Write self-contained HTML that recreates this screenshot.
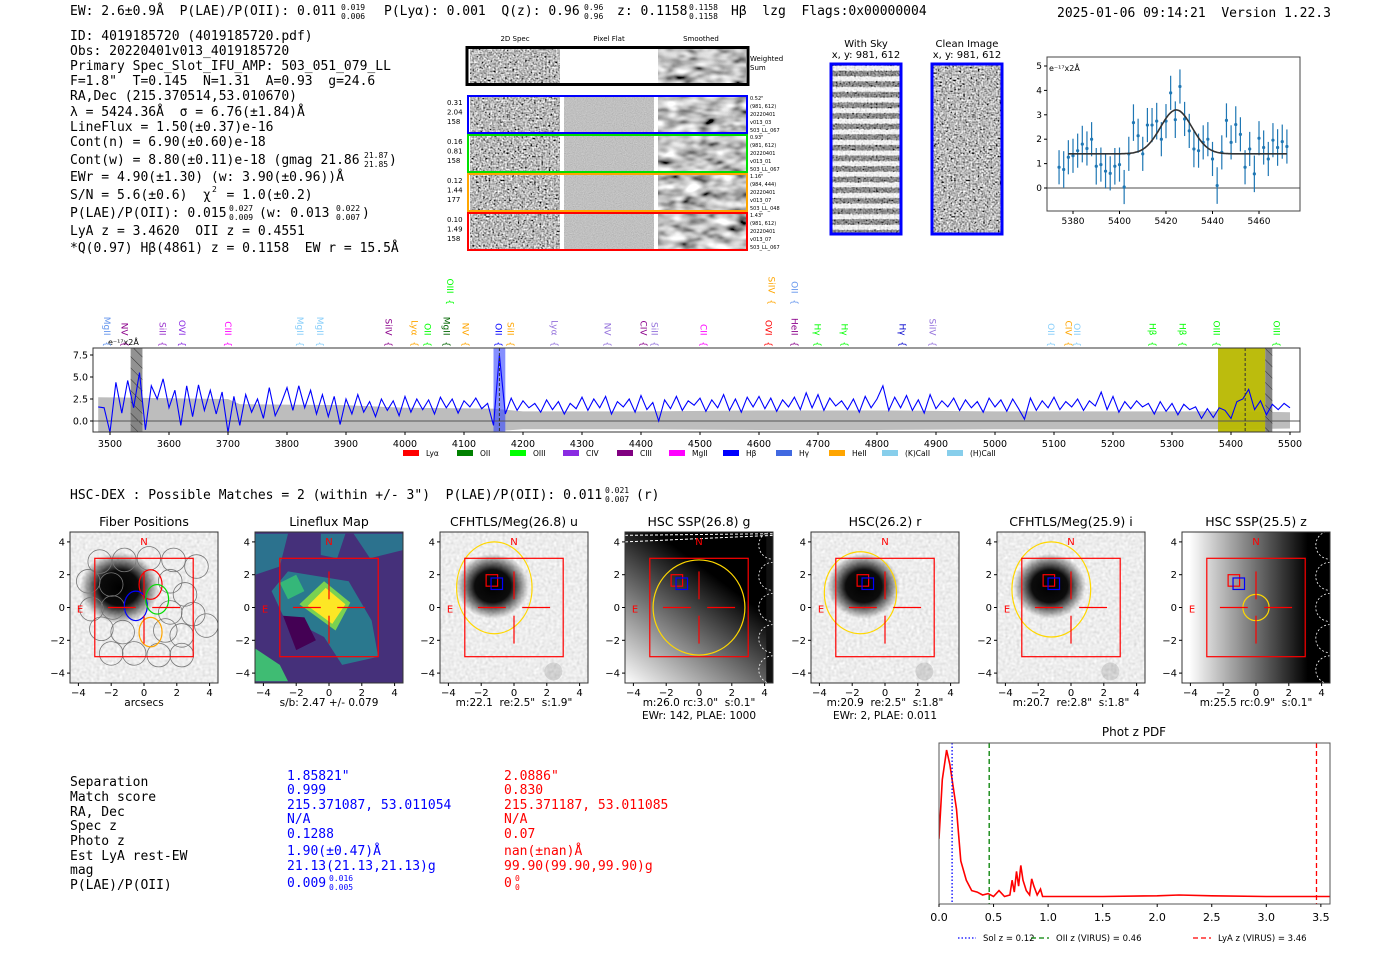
<!DOCTYPE html>
<html><head><meta charset="utf-8">
<style>
html,body{margin:0;padding:0;background:#fff;}
svg{display:block;}
text{white-space:pre;}
.m{font-family:"DejaVu Sans Mono","Liberation Mono",monospace;font-size:13px;fill:#000;}
.s{font-family:"DejaVu Sans","Liberation Sans",sans-serif;}
</style></head>
<body>
<svg id="root" width="1400" height="953" viewBox="0 0 1400 953" xmlns="http://www.w3.org/2000/svg" xml:space="preserve">
<defs>
<filter id="nFine" x="0" y="0" width="1" height="1" filterUnits="objectBoundingBox">
 <feTurbulence type="fractalNoise" baseFrequency="0.55" numOctaves="1" seed="3"/>
 <feColorMatrix type="matrix" values="0.33 0.33 0.33 0 0 0.33 0.33 0.33 0 0 0.33 0.33 0.33 0 0 0 0 0 0 1"/>
 <feComponentTransfer><feFuncR type="linear" slope="3.2" intercept="-1.1"/><feFuncG type="linear" slope="3.2" intercept="-1.1"/><feFuncB type="linear" slope="3.2" intercept="-1.1"/></feComponentTransfer>
</filter>
<filter id="nSmooth" x="0" y="0" width="1" height="1" filterUnits="objectBoundingBox">
 <feTurbulence type="fractalNoise" baseFrequency="0.06 0.12" numOctaves="2" seed="7"/>
 <feColorMatrix type="matrix" values="0.33 0.33 0.33 0 0 0.33 0.33 0.33 0 0 0.33 0.33 0.33 0 0 0 0 0 0 1"/>
 <feComponentTransfer><feFuncR type="linear" slope="3" intercept="-0.95"/><feFuncG type="linear" slope="3" intercept="-0.95"/><feFuncB type="linear" slope="3" intercept="-0.95"/></feComponentTransfer>
</filter>
<filter id="nFlat" x="0" y="0" width="1" height="1" filterUnits="objectBoundingBox">
 <feTurbulence type="fractalNoise" baseFrequency="0.9" numOctaves="1" seed="2"/>
 <feColorMatrix type="matrix" values="0.33 0.33 0.33 0 0 0.33 0.33 0.33 0 0 0.33 0.33 0.33 0 0 0 0 0 0 1"/>
 <feComponentTransfer><feFuncR type="linear" slope="0.5" intercept="0.28"/><feFuncG type="linear" slope="0.5" intercept="0.28"/><feFuncB type="linear" slope="0.5" intercept="0.28"/></feComponentTransfer>
</filter>
<filter id="nLight" x="0" y="0" width="1" height="1" filterUnits="objectBoundingBox">
 <feTurbulence type="fractalNoise" baseFrequency="0.35" numOctaves="1" seed="5"/>
 <feColorMatrix type="matrix" values="0.33 0.33 0.33 0 0 0.33 0.33 0.33 0 0 0.33 0.33 0.33 0 0 0 0 0 0 1"/>
 <feComponentTransfer><feFuncR type="linear" slope="0.7" intercept="0.5"/><feFuncG type="linear" slope="0.7" intercept="0.5"/><feFuncB type="linear" slope="0.7" intercept="0.5"/></feComponentTransfer>
</filter>
<radialGradient id="blob"><stop offset="0" stop-color="#000" stop-opacity="1"/><stop offset="0.5" stop-color="#000" stop-opacity="0.95"/><stop offset="1" stop-color="#000" stop-opacity="0"/></radialGradient>
<linearGradient id="gG" x1="0" y1="1" x2="0.55" y2="0.25"><stop offset="0" stop-color="#fff"/><stop offset="1" stop-color="#000"/></linearGradient>
<linearGradient id="gZ" x1="0" y1="0" x2="1" y2="0"><stop offset="0.05" stop-color="#fff"/><stop offset="0.85" stop-color="#000"/></linearGradient>
<pattern id="hatch" width="8" height="8" patternUnits="userSpaceOnUse" patternTransform="rotate(-45)"><line x1="0" y1="0" x2="0" y2="8" stroke="#333" stroke-width="1"/></pattern>
<clipPath id="specClip"><rect x="93" y="348" width="1207" height="84"/></clipPath>
<clipPath id="pzClip"><rect x="939" y="743" width="391" height="161"/></clipPath>
</defs>

<text class="m" x="70" y="15">EW: 2.6±0.9Å  P(LAE)/P(OII): 0.011</text>
<text class="m" x="341" y="10" style="font-size:8px">0.019</text>
<text class="m" x="341" y="19" style="font-size:8px">0.006</text>
<text class="m" x="384" y="15">P(Lyα): 0.001  Q(z): 0.96</text>
<text class="m" x="584" y="10" style="font-size:8px">0.96</text>
<text class="m" x="584" y="19" style="font-size:8px">0.96</text>
<text class="m" x="617" y="15">z: 0.1158</text>
<text class="m" x="689" y="10" style="font-size:8px">0.1158</text>
<text class="m" x="689" y="19" style="font-size:8px">0.1158</text>
<text class="m" x="731" y="15">Hβ  lzg  Flags:0x00000004</text>
<text class="m" x="1057" y="17">2025-01-06 09:14:21  Version 1.22.3</text>

<g>
<text class="m" x="70" y="40">ID: 4019185720 (4019185720.pdf)</text>
<text class="m" x="70" y="55">Obs: 20220401v013_4019185720</text>
<text class="m" x="70" y="70">Primary Spec_Slot_IFU_AMP: 503_051_079_LL</text>
<text class="m" x="70" y="85">F=1.8"  T=0.145  N=1.31  A=0.93  g=24.6</text>
<text class="m" x="70" y="100">RA,Dec (215.370514,53.010670)</text>
<text class="m" x="70" y="116">λ = 5424.36Å  σ = 6.76(±1.84)Å</text>
<text class="m" x="70" y="131">LineFlux = 1.50(±0.37)e-16</text>
<text class="m" x="70" y="146">Cont(n) = 6.90(±0.60)e-18</text>
<text class="m" x="70" y="164">Cont(w) = 8.80(±0.11)e-18 (gmag 21.86</text>
<text class="m" x="364" y="158" style="font-size:8px">21.87</text>
<text class="m" x="364" y="167" style="font-size:8px">21.85</text>
<text class="m" x="389" y="164">)</text>
<text class="m" x="70" y="181">EWr = 4.90(±1.30) (w: 3.90(±0.96))Å</text>
<text class="m" x="70" y="199">S/N = 5.6(±0.6)  χ  = 1.0(±0.2)</text>
<text class="m" x="212" y="192" style="font-size:8px">2</text>
<text class="m" x="70" y="217">P(LAE)/P(OII): 0.015</text>
<text class="m" x="229" y="211" style="font-size:8px">0.027</text>
<text class="m" x="229" y="220" style="font-size:8px">0.009</text>
<text class="m" x="259" y="217">(w: 0.013</text>
<text class="m" x="336" y="211" style="font-size:8px">0.022</text>
<text class="m" x="336" y="220" style="font-size:8px">0.007</text>
<text class="m" x="362" y="217">)</text>
<text class="m" x="70" y="235">LyA z = 3.4620  OII z = 0.4551</text>
<text class="m" x="70" y="252">*Q(0.97) Hβ(4861) z = 0.1158  EW r = 15.5Å</text>
</g>

<g id="g2d"></g>
<g id="gsky"></g>
<g id="gfit"></g>
<g id="gspec"></g>

<text class="m" x="70" y="499">HSC-DEX : Possible Matches = 2 (within +/- 3")  P(LAE)/P(OII): 0.011</text>
<text class="m" x="605" y="493" style="font-size:8px">0.021</text>
<text class="m" x="605" y="502" style="font-size:8px">0.007</text>
<text class="m" x="636" y="499">(r)</text>

<g id="gcut"></g>

<g>
<text class="m" x="70" y="786">Separation</text>
<text class="m" x="70" y="801">Match score</text>
<text class="m" x="70" y="816">RA, Dec</text>
<text class="m" x="70" y="830">Spec z</text>
<text class="m" x="70" y="845">Photo z</text>
<text class="m" x="70" y="860">Est LyA rest-EW</text>
<text class="m" x="70" y="874">mag</text>
<text class="m" x="70" y="889">P(LAE)/P(OII)</text>
<text class="m" style="fill:#0000ff" x="287" y="780">1.85821"</text>
<text class="m" style="fill:#0000ff" x="287" y="794">0.999</text>
<text class="m" style="fill:#0000ff" x="287" y="809">215.371087, 53.011054</text>
<text class="m" style="fill:#0000ff" x="287" y="823">N/A</text>
<text class="m" style="fill:#0000ff" x="287" y="838">0.1288</text>
<text class="m" style="fill:#0000ff" x="287" y="855">1.90(±0.47)Å</text>
<text class="m" style="fill:#0000ff" x="287" y="870">21.13(21.13,21.13)g</text>
<text class="m" style="fill:#0000ff" x="287" y="887">0.009</text>
<text class="m" style="fill:#0000ff;font-size:8px" x="329" y="881">0.016</text>
<text class="m" style="fill:#0000ff;font-size:8px" x="329" y="890">0.005</text>
<text class="m" style="fill:#ff0000" x="504" y="780">2.0886"</text>
<text class="m" style="fill:#ff0000" x="504" y="794">0.830</text>
<text class="m" style="fill:#ff0000" x="504" y="809">215.371187, 53.011085</text>
<text class="m" style="fill:#ff0000" x="504" y="823">N/A</text>
<text class="m" style="fill:#ff0000" x="504" y="838">0.07</text>
<text class="m" style="fill:#ff0000" x="504" y="855">nan(±nan)Å</text>
<text class="m" style="fill:#ff0000" x="504" y="870">99.90(99.90,99.90)g</text>
<text class="m" style="fill:#ff0000" x="504" y="887">0</text>
<text class="m" style="fill:#ff0000;font-size:8px" x="515" y="881">0</text>
<text class="m" style="fill:#ff0000;font-size:8px" x="515" y="890">0</text>
</g>

<g id="gpz"></g>
</svg>

<script>
const specWave0 = 3480, specStep = 10;
const specFlux = [1.6,1.5,-1.3,4.4,0.9,4.6,1.5,5.5,-1.0,4.0,2.5,4.8,1.5,3.5,-0.5,4.0,0.5,4.1,1.2,3.5,0.8,3.3,-1.3,2.8,-0.5,3.0,1.0,2.5,0.3,3.8,0.6,2.0,3.8,1.2,4.0,1.5,3.5,0.8,3.0,0.5,2.8,-0.4,2.5,0.8,3.0,1.0,2.2,0.5,2.5,1.2,2.3,0.6,2.8,1.0,2.5,1.3,2.4,0.8,2.7,1.5,2.5,0.9,2.3,1.6,2.6,1.4,2.0,-0.5,7.5,0.8,2.6,1.2,2.3,1.5,2.0,1.0,2.4,1.3,2.2,0.8,2.0,1.4,2.7,1.2,2.5,1.5,2.8,0.8,2.2,1.6,2.5,1.0,2.9,1.3,2.1,0.0,2.4,1.4,2.8,1.2,2.3,1.8,2.6,1.1,2.4,1.5,3.0,1.2,2.5,1.0,2.7,1.6,2.8,1.4,2.6,1.1,2.4,1.6,2.7,1.3,3.2,1.5,3.0,1.2,2.6,1.7,2.3,1.3,2.5,1.0,2.8,1.5,2.5,4.0,1.2,2.7,1.5,2.9,1.2,2.4,0.9,3.0,1.4,2.3,1.6,2.6,1.2,2.4,1.5,2.2,1.0,2.6,1.6,2.4,1.1,2.5,1.4,0.2,2.6,1.2,2.3,1.5,2.7,1.3,2.2,1.6,2.5,1.2,2.3,1.7,3.3,1.3,2.8,1.0,2.2,1.4,2.3,1.6,2.0,0.8,2.2,1.1,2.0,0.7,1.9,1.3,1.6,0.3,1.4,0.4,1.5,1.2,0.3,2.2,2.5,3.6,1.3,2.3,0.7,1.9,1.3,2.0,1.5];
const errWave = [3480,3700,3720,3900,4000,4150,4200,4400,4600,4800,5000,5200,5400,5500];
const errVal  = [2.7,2.5,1.9,1.8,1.5,1.4,1.1,1.1,1.2,1.2,1.1,1.1,1.1,1.0];
const specTicks = [3500,3600,3700,3800,3900,4000,4100,4200,4300,4400,4500,4600,4700,4800,4900,5000,5100,5200,5300,5400,5500];
const specYTicks = [0.0,2.5,5.0,7.5];
const lineNames = ["MgII","NV","SiII","OVI","CIII","MgII","MgII","SiIV","Lyα","OII","MgII","NV","OII","SiII","Lyα","NV","CIV","SiII","CII","OVI","HeII","Hγ","Hγ","Hγ","SiIV","OII","CIV","OII","Hβ","Hβ","OIII","OIII"];
const lineWaves = [3496,3525,3590,3623,3701,3823,3857,3973,4017,4039,4071,4103,4159,4180,4254,4344,4405,4424,4507,4617,4661,4700,4746,4844,4895,5096,5125,5140,5268,5319,5376,5478];
const lineColors = ["#6495ed","#8b008b","#9932cc","#8a2be2","#ff00ff","#87cefa","#87cefa","#8b008b","#ffa500","#00ff00","#006400","#ffa500","#0000ff","#ffa500","#9370db","#9370db","#8b008b","#9370db","#ff00ff","#ff0000","#8b008b","#00ff00","#00ff00","#0000cd","#9370db","#87cefa","#ffa500","#87cefa","#00ff00","#00ff00","#00ff00","#00ff00"];
const upNames = ["OIII","SiIV","OII"];
const upWaves = [4077,4622,4661];
const upColors = ["#00ff00","#ffa500","#6495ed"];
const legNames = ["Lyα","OII","OIII","CIV","CIII","MgII","Hβ","Hγ","HeII","(K)CaII","(H)CaII"];
const legColors = ["#ff0000","#008000","#00ff00","#8a2be2","#800080","#ff00ff","#0000ff","#4169e1","#ffa500","#87ceeb","#87ceeb"];

const fitWave = [5374,5376,5378,5380,5382,5384,5386,5388,5390,5392,5394,5396,5398,5400,5402,5404,5406,5408,5410,5412,5414,5416,5418,5420,5422,5424,5426,5428,5430,5432,5434,5436,5438,5440,5442,5444,5446,5448,5450,5452,5454,5456,5458,5460,5462,5464,5466,5468,5470,5472];
const fitFlux = [0.85,0.76,1.26,1.32,1.53,1.8,1.62,2.0,0.89,0.96,0.69,0.6,0.89,0.96,0.04,1.4,2.68,2.14,1.4,2.58,2.58,2.74,2.0,2.74,3.9,2.8,4.16,2.83,2.34,1.6,1.53,1.87,2.0,1.19,0.1,1.46,2.77,1.87,2.6,2.2,0.85,1.6,0.58,2.04,1.66,1.19,1.96,1.66,1.9,1.7];
const fitErr = [0.7,0.75,0.7,0.7,0.7,0.75,0.7,0.7,0.75,0.7,0.7,0.7,0.75,0.7,0.7,0.7,0.75,0.7,0.7,0.7,0.7,0.75,0.7,0.7,0.7,0.75,0.7,0.7,0.7,0.75,0.7,0.7,0.7,0.7,0.75,0.7,0.7,0.7,0.75,0.7,0.7,0.7,0.75,0.7,0.7,0.7,0.7,0.75,0.7,0.7];
const fitCont = 1.4, fitAmp = 1.8, fitMu = 5424.4, fitSig = 6.76;
const fitXTicks = [5380,5400,5420,5440,5460];
const fitYTicks = [0,1,2,3,4,5];

const pzZ = [0,0.03,0.07,0.1,0.13,0.16,0.2,0.25,0.3,0.35,0.4,0.45,0.5,0.55,0.6,0.65,0.67,0.69,0.71,0.73,0.75,0.77,0.8,0.83,0.85,0.87,0.9,0.93,0.95,1.0,1.5,2.0,2.2,2.5,3.0,3.6];
const pzP = [0.4,0.8,1.0,0.9,0.75,0.6,0.25,0.12,0.05,0.04,0.02,0.03,0.01,0.05,0.01,0.02,0.12,0.04,0.18,0.08,0.22,0.12,0.05,0.02,0.13,0.08,0.02,0.06,0.01,0.01,0.01,0.015,0.02,0.015,0.01,0.01];
const pzLinesZ = [0.12,0.46,3.46];
const pzTicks = [0.0,0.5,1.0,1.5,2.0,2.5,3.0,3.5];

const cutTitles = ["Fiber Positions","Lineflux Map","CFHTLS/Meg(26.8) u","HSC SSP(26.8) g","HSC(26.2) r","CFHTLS/Meg(25.9) i","HSC SSP(25.5) z"];
const cutLabel1 = ["arcsecs","s/b: 2.47 +/- 0.079","m:22.1  re:2.5\"  s:1.9\"","m:26.0 rc:3.0\"  s:0.1\"","m:20.9  re:2.5\"  s:1.8\"","m:20.7  re:2.8\"  s:1.8\"","m:25.5 rc:0.9\"  s:0.1\""];
const cutLabel2 = ["","","","EWr: 142, PLAE: 1000","EWr: 2, PLAE: 0.011","",""];
const cutTicks = [-4,-2,0,2,4];

const NS = "http://www.w3.org/2000/svg";
function mk(parent, tag, attrs, txt){
  const el = document.createElementNS(NS, tag);
  for (const k in attrs) el.setAttribute(k, attrs[k]);
  if (txt !== undefined) el.textContent = txt;
  parent.appendChild(el);
  return el;
}
const SANS = '"DejaVu Sans","Liberation Sans",sans-serif';
let e;

// 2D spectra
const g2 = document.getElementById('g2d');
["2D Spec","Pixel Flat","Smoothed"].forEach((t,i)=>{
  e = mk(g2,'text',{x:[515,609,701][i],y:41,'font-family':SANS,'font-size':7,'text-anchor':'middle'},t);
  
  
});
e = mk(g2,'rect',{x:470,y:49,width:90,height:34,fill:'#888',filter:'url(#nFine)'});


e = mk(g2,'rect',{x:658,y:49,width:88,height:34,fill:'#888',filter:'url(#nSmooth)'});


e = mk(g2,'rect',{x:467,y:47.5,width:281,height:37,fill:'none',stroke:'#000','stroke-width':3});


e = mk(g2,'text',{x:750,y:61,'font-family':SANS,'font-size':7},'Weighted');


e = mk(g2,'text',{x:750,y:70,'font-family':SANS,'font-size':7},'Sum');


const rowCols = ["#0000ff","#00dd00","#ffa500","#ff0000"];
const rowL = [["0.31","2.04","158"],["0.16","0.81","158"],["0.12","1.44","177"],["0.10","1.49","158"]];
const rowR = [["0.52\"","(981, 612)","20220401","v013_03","503_LL_067"],["0.93\"","(981, 612)","20220401","v013_01","503_LL_067"],["1.16\"","(984, 444)","20220401","v013_07","503_LL_048"],["1.43\"","(981, 612)","20220401","v013_07","503_LL_067"]];
for (let r=0;r<4;r++){
  const y0 = 95 + r*39;
  e = mk(g2,'rect',{x:470,y:y0+2,width:90,height:35,fill:'#888',filter:'url(#nFine)'});
  
  
  e = mk(g2,'rect',{x:564,y:y0+2,width:90,height:35,fill:'#999',filter:'url(#nFlat)'});
  
  
  e = mk(g2,'rect',{x:658,y:y0+2,width:88,height:35,fill:'#888',filter:'url(#nSmooth)'});
  
  
  e = mk(g2,'rect',{x:468,y:y0+1,width:279,height:37,fill:'none',stroke:rowCols[r],'stroke-width':2});
  
  
  rowL[r].forEach((t,i)=>{
    e = mk(g2,'text',{x:447,y:y0+10+i*9.5,'font-family':SANS,'font-size':7},t);
    
    
  });
  rowR[r].forEach((t,i)=>{
    e = mk(g2,'text',{x:750,y:y0+5+i*8,'font-family':SANS,'font-size':5},t);
    
    
  });
}

// sky images
const gs = document.getElementById('gsky');
[["With Sky",831],["Clean Image",932]].forEach((p,i)=>{
  e = mk(gs,'text',{x:p[1]+35,y:47,'font-family':SANS,'font-size':10,'text-anchor':'middle'},p[0]);
  
  
  e = mk(gs,'text',{x:p[1]+35,y:58,'font-family':SANS,'font-size':10,'text-anchor':'middle'},'x, y: 981, 612');
  
  
  e = mk(gs,'rect',{x:p[1]+1,y:65,width:68,height:168,fill:'#888',filter:'url(#nFine)'});
  
  
  if (i===0){
    for (let k=0;k<16;k++){
      mk(gs,'rect',{x:p[1]+1,y:66+k*10.6,width:68,height:4.5,fill:'#fff','fill-opacity':0.8});
      mk(gs,'rect',{x:p[1]+1,y:71+k*10.6,width:68,height:5,fill:'#333','fill-opacity':0.35});
    }
  }
  e = mk(gs,'rect',{x:p[1],y:64,width:70,height:170,fill:'none',stroke:'#0000ff','stroke-width':3});
  
  
});

// fit plot
const gf = document.getElementById('gfit');
const fx = w => 1073 + (w-5380)*2.325;
const fy = v => 188 - v*24.4;
e = mk(gf,'line',{x1:1047,x2:1300,y1:fy(0),y2:fy(0),stroke:'#888','stroke-width':1.5});


fitWave.forEach((w,i)=>{
  e = mk(gf,'line',{x1:fx(w),x2:fx(w),y1:fy(fitFlux[i]-fitErr[i]),y2:fy(fitFlux[i]+fitErr[i]),stroke:'#1f77b4','stroke-width':1.2});
  
  
  e = mk(gf,'circle',{cx:fx(w),cy:fy(fitFlux[i]),r:1.6,fill:'#1f77b4'});
  
  
});
const fpts=[];
for (let w=5378; w<=5472; w+=0.5){ fpts.push(fx(w).toFixed(1)+','+fy(fitCont+fitAmp*Math.exp(-0.5*((w-fitMu)/fitSig)**2)).toFixed(1)); }
e = mk(gf,'polyline',{points:fpts.join(' '),fill:'none',stroke:'#333','stroke-width':1.6});


e = mk(gf,'rect',{x:1047,y:57,width:253,height:154,fill:'none',stroke:'#444','stroke-width':1});


fitXTicks.forEach(t=>{
  mk(gf,'line',{x1:fx(t),x2:fx(t),y1:211,y2:214,stroke:'#000'});
  e = mk(gf,'text',{x:fx(t),y:224,'font-family':SANS,'font-size':9,'text-anchor':'middle'},String(t));
  
  
});
fitYTicks.forEach(t=>{
  mk(gf,'line',{x1:1044,x2:1047,y1:fy(t),y2:fy(t),stroke:'#000'});
  e = mk(gf,'text',{x:1042,y:fy(t)+3,'font-family':SANS,'font-size':9,'text-anchor':'end'},String(t));
  
  
});
e = mk(gf,'text',{x:1049,y:71,'font-family':SANS,'font-size':8},'e⁻¹⁷x2Å');



// full spectrum
const gp = document.getElementById('gspec');
const sx = w => 110 + (w-3500)*0.59;
const sy = v => 421 - v*8.8;
const sclip = mk(gp,'g',{'clip-path':'url(#specClip)'});
const bandTop=[], bandBot=[];
errWave.forEach((w,i)=>{ bandTop.push(sx(w)+','+sy(errVal[i])); bandBot.unshift(sx(w)+','+sy(-errVal[i]*0.85)); });
e = mk(sclip,'polygon',{points:bandTop.concat(bandBot).join(' '),fill:'#bdbdbd'});


e = mk(sclip,'rect',{x:sx(3535),y:348,width:sx(3555)-sx(3535),height:84,fill:'#777','fill-opacity':0.8});


mk(sclip,'rect',{x:sx(3535),y:348,width:sx(3555)-sx(3535),height:84,fill:'url(#hatch)'});
e = mk(sclip,'rect',{x:sx(4150),y:348,width:sx(4170)-sx(4150),height:84,fill:'#3344ff','fill-opacity':0.6});


e = mk(sclip,'rect',{x:sx(5378),y:348,width:sx(5458)-sx(5378),height:84,fill:'#b8b800','fill-opacity':0.95});


e = mk(sclip,'rect',{x:sx(5458),y:348,width:sx(5470)-sx(5458),height:84,fill:'#777','fill-opacity':0.9});


mk(sclip,'rect',{x:sx(5458),y:348,width:sx(5470)-sx(5458),height:84,fill:'url(#hatch)'});
e = mk(sclip,'line',{x1:93,x2:1300,y1:sy(0),y2:sy(0),stroke:'#555','stroke-width':1});


const sp = specFlux.map((v,i)=> sx(specWave0+i*specStep).toFixed(1)+','+sy(v).toFixed(1));
e = mk(sclip,'polyline',{points:sp.join(' '),fill:'none',stroke:'#0000ff','stroke-width':1.1});


[4160,5424].forEach(w=>{
  e = mk(sclip,'line',{x1:sx(w),x2:sx(w),y1:348,y2:432,stroke:'#333','stroke-dasharray':'3,2','stroke-width':1});
  
  
});
e = mk(gp,'rect',{x:93,y:348,width:1207,height:84,fill:'none',stroke:'#333','stroke-width':1});


specTicks.forEach(t=>{
  mk(gp,'line',{x1:sx(t),x2:sx(t),y1:432,y2:435,stroke:'#000'});
  e = mk(gp,'text',{x:sx(t),y:447,'font-family':SANS,'font-size':9.5,'text-anchor':'middle'},String(t));
  
  
});
specYTicks.forEach(t=>{
  mk(gp,'line',{x1:90,x2:93,y1:sy(t),y2:sy(t),stroke:'#000'});
  e = mk(gp,'text',{x:88,y:sy(t)+3.5,'font-family':SANS,'font-size':9.5,'text-anchor':'end'},t.toFixed(1));
  
  
});
e = mk(gp,'text',{x:108,y:345,'font-family':SANS,'font-size':8},'e⁻¹⁷x2Å');


lineNames.forEach((n,i)=>{
  const x = sx(lineWaves[i]);
  e = mk(gp,'text',{x:0,y:0,transform:`translate(${x-3.5},347) rotate(90)`,'font-family':SANS,'font-size':9,'text-anchor':'end',fill:lineColors[i]},n+'  {');
  
  
});
upNames.forEach((n,i)=>{
  const x = sx(upWaves[i]);
  e = mk(gp,'text',{x:0,y:0,transform:`translate(${x-3.5},305) rotate(90)`,'font-family':SANS,'font-size':9,'text-anchor':'end',fill:upColors[i]},n+'  {');
  
  
});
const legX = [403,457,510,563,617,669,723,776,829,882,947];
legNames.forEach((n,i)=>{
  e = mk(gp,'rect',{x:legX[i],y:450,width:16,height:6,fill:legColors[i]});
  
  
  e = mk(gp,'text',{x:legX[i]+23,y:456,'font-family':SANS,'font-size':7.5},n);
  
  
});

// cutouts
const gc = document.getElementById('gcut');
const defsEl = document.querySelector('defs');
const cutX0 = [70,255,440,625,811,997,1182];
const CY0=532, CW=148, CH=151, PU=16.4;
cutTitles.forEach((title,p)=>{
  const x0 = cutX0[p], cx = x0+74, cy = 607.5;
  const ax = v => cx + v*PU, ay = v => cy - v*PU;
  const g = mk(gc,'g',{});
  
  
  const clipId = 'cc'+p;
  const cp = mk(defsEl,'clipPath',{id:clipId});
  mk(cp,'rect',{x:x0,y:CY0,width:CW,height:CH});
  const ig = mk(g,'g',{'clip-path':`url(#${clipId})`});
  if (p===1){
    mk(ig,'rect',{x:x0,y:CY0,width:CW,height:CH,fill:'#45307a'});
    mk(ig,'polygon',{points:`${ax(-4.5)},${ay(4.5)} ${ax(-2.5)},${ay(4.5)} ${ax(-3)},${ay(2.5)} ${ax(-4.5)},${ay(2)}`,fill:'#2c728e'});
    mk(ig,'polygon',{points:`${ax(-0.5)},${ay(4.5)} ${ax(1)},${ay(4.5)} ${ax(0.5)},${ay(3)} ${ax(-0.5)},${ay(3.2)}`,fill:'#2c728e'});
    mk(ig,'polygon',{points:`${ax(1.5)},${ay(4.5)} ${ax(4.5)},${ay(4.5)} ${ax(4.5)},${ay(3.5)} ${ax(2.5)},${ay(3)}`,fill:'#2c728e'});
    mk(ig,'polygon',{points:`${ax(-2.5)},${ay(2.2)} ${ax(1.2)},${ay(1.6)} ${ax(2.6)},${ay(-0.8)} ${ax(3)},${ay(-3)} ${ax(0.8)},${ay(-3.5)} ${ax(-0.3)},${ay(-1.8)} ${ax(-2.8)},${ay(-0.5)} ${ax(-3.5)},${ay(1)}`,fill:'#2a788e'});
    mk(ig,'polygon',{points:`${ax(-4.5)},${ay(-2.5)} ${ax(-3)},${ay(-3.5)} ${ax(-2.5)},${ay(-4.5)} ${ax(-4.5)},${ay(-4.5)}`,fill:'#3fbc73'});
    mk(ig,'polygon',{points:`${ax(-3)},${ay(1.5)} ${ax(-2)},${ay(2)} ${ax(-1.5)},${ay(1)} ${ax(-2.5)},${ay(0.5)}`,fill:'#35b779'});
    mk(ig,'polygon',{points:`${ax(-1.8)},${ay(0.2)} ${ax(-0.3)},${ay(1.6)} ${ax(1.3)},${ay(0.3)} ${ax(0.4)},${ay(-1.4)}`,fill:'#7ad151'});
    mk(ig,'polygon',{points:`${ax(-1.3)},${ay(0.1)} ${ax(-0.2)},${ay(1.2)} ${ax(1.0)},${ay(0.2)} ${ax(0.2)},${ay(-1.0)}`,fill:'#fde725'});
    mk(ig,'polygon',{points:`${ax(-2.8)},${ay(-0.5)} ${ax(-1.5)},${ay(-0.6)} ${ax(-0.8)},${ay(-2)} ${ax(-2)},${ay(-2.6)}`,fill:'#440154'});
  } else if (p===3){
    mk(ig,'rect',{x:x0,y:CY0,width:CW,height:CH,fill:'url(#gG)'});
    mk(ig,'rect',{x:ax(4.1),y:CY0,width:10,height:CH,fill:'#111'});
    for (let k=0;k<5;k++) mk(ig,'circle',{cx:ax(4.5),cy:ay(3.8-k*1.9),r:14,fill:'none',stroke:'#fff','stroke-dasharray':'2,2','stroke-width':0.8});
    mk(ig,'line',{x1:x0,x2:x0+CW,y1:ay(4.4),y2:ay(4.5),stroke:'#fff','stroke-dasharray':'3,2'});
    mk(ig,'line',{x1:x0,x2:x0+CW,y1:ay(4.0),y2:ay(4.4),stroke:'#fff','stroke-dasharray':'3,2'});
  } else if (p===6){
    mk(ig,'rect',{x:x0,y:CY0,width:CW,height:CH,fill:'url(#gZ)'});
    mk(ig,'rect',{x:ax(3.8),y:CY0,width:14,height:CH,fill:'#000'});
    for (let k=0;k<5;k++) mk(ig,'circle',{cx:ax(4.5),cy:ay(3.8-k*1.9),r:14,fill:'none',stroke:'#fff','stroke-dasharray':'2,2','stroke-width':0.8});
  } else {
    mk(ig,'rect',{x:x0,y:CY0,width:CW,height:CH,fill:'#ddd',filter:'url(#nLight)'});
    const bx = p===0?-1.5:-1.3, by = p===0?1.2:1.3, br = p===0?2.4:2.2;
    mk(ig,'ellipse',{cx:ax(bx),cy:ay(by),rx:br*PU,ry:br*PU*0.9,fill:'url(#blob)'});
    if (p!==0){
      mk(ig,'circle',{cx:ax(2.4),cy:ay(-3.9),r:9,fill:'#000','fill-opacity':0.12});
    }
  }
  if (p===0){
    const fibs = [[-2.7,2.8],[-1.2,2.9],[0.3,3.0],[1.8,2.9],[3.2,2.5],[-3.4,1.6],[-2,1.4],[-1.9,0],[1.6,1.6],[2.5,0.8],[-3.2,-0.1],[-1.3,-1.5],[1.6,-0.3],[3,-0.4],[-2.6,-1.3],[1.3,-1.4],[2.3,-1.7],[-2,-2.8],[-0.6,-2.8],[0.9,-2.9],[2.3,-2.9],[3.8,-1.1]];
    fibs.forEach(f=>{ mk(ig,'circle',{cx:ax(f[0]),cy:ay(f[1]),r:0.72*PU,fill:'none',stroke:'#777','stroke-width':0.8}); });
    [[0.4,1.4,'#ff0000'],[-0.5,0.1,'#0000ff'],[0.8,0.5,'#00dd00'],[0.4,-1.5,'#ffa500']].forEach(f=>{
      e = mk(ig,'ellipse',{cx:ax(f[0]),cy:ay(f[1]),rx:0.7*PU,ry:0.9*PU,fill:'none',stroke:f[2],'stroke-width':1.2});
      
      
    });
  }
  const ell = {2:[-1.2,1.2,2.3,2.8],3:[0,0,2.8,2.9],4:[-1.5,0.9,2.2,2.5],5:[-1.2,1.1,2.4,2.9],6:[0,0,0.8,0.8]};
  if (ell[p]){
    e = mk(ig,'ellipse',{cx:ax(ell[p][0]),cy:ay(ell[p][1]),rx:ell[p][2]*PU,ry:ell[p][3]*PU,fill:'none',stroke:'#ffd700','stroke-width':1.2});
    
    
  }
  if (p>=2){
    e = mk(ig,'rect',{x:ax(-1.7),y:ay(2),width:0.7*PU,height:0.7*PU,fill:'none',stroke:'#ff0000','stroke-width':1.2});
    
    
    e = mk(ig,'rect',{x:ax(-1.4),y:ay(1.8),width:0.7*PU,height:0.7*PU,fill:'none',stroke:'#0000ff','stroke-width':1.2});
    
    
  }
  e = mk(ig,'rect',{x:ax(-3),y:ay(3),width:6*PU,height:6*PU,fill:'none',stroke:'#ff0000','stroke-width':1.2});
  
  
  [[-2.2,0,-0.5,0],[0.5,0,2.2,0],[0,0.5,0,2.2],[0,-0.5,0,-2.2]].forEach(l=>{
    mk(ig,'line',{x1:ax(l[0]),y1:ay(l[1]),x2:ax(l[2]),y2:ay(l[3]),stroke:'#ff0000','stroke-width':1.2});
  });
  e = mk(ig,'text',{x:ax(0),y:ay(3.8),'font-family':SANS,'font-size':10,fill:'#ff0000','text-anchor':'middle'},'N');
  
  
  e = mk(ig,'text',{x:ax(-3.9),y:ay(-0.3),'font-family':SANS,'font-size':10,fill:'#ff0000','text-anchor':'middle'},'E');
  
  
  mk(g,'rect',{x:x0,y:CY0,width:CW,height:CH,fill:'none',stroke:'#333','stroke-width':1});
  cutTicks.forEach(t=>{
    mk(g,'line',{x1:ax(t),x2:ax(t),y1:CY0+CH,y2:CY0+CH+3,stroke:'#000'});
    e = mk(g,'text',{x:ax(t),y:CY0+CH+13,'font-family':SANS,'font-size':10,'text-anchor':'middle'},(t<0?'−':'')+Math.abs(t));
    
    
    mk(g,'line',{x1:x0-3,x2:x0,y1:ay(t),y2:ay(t),stroke:'#000'});
    e = mk(g,'text',{x:x0-5,y:ay(t)+3.5,'font-family':SANS,'font-size':10,'text-anchor':'end'},(t<0?'−':'')+Math.abs(t));
    
    
  });
  e = mk(g,'text',{x:cx,y:526,'font-family':SANS,'font-size':12.5,'text-anchor':'middle'},title);
  
  
  e = mk(g,'text',{x:cx,y:706,'font-family':SANS,'font-size':10.5,'text-anchor':'middle'},cutLabel1[p]);
  
  
  if (cutLabel2[p]){
    e = mk(g,'text',{x:cx,y:719,'font-family':SANS,'font-size':10.5,'text-anchor':'middle'},cutLabel2[p]);
    
    
  }
});

// phot z pdf
const gz = document.getElementById('gpz');
const zx = z => 939 + z*109.1;
const zy = v => 898 - v*148;
const zclip = mk(gz,'g',{'clip-path':'url(#pzClip)'});
e = mk(zclip,'polyline',{points:pzZ.map((z,i)=>zx(z).toFixed(1)+','+zy(pzP[i]).toFixed(1)).join(' '),fill:'none',stroke:'#ff0000','stroke-width':1.6});


const pzStyles = [['#0000ff','1.5,2'],['#008000','5,3'],['#ff0000','5,3']];
pzLinesZ.forEach((z,i)=>{
  e = mk(zclip,'line',{x1:zx(z),x2:zx(z),y1:743,y2:904,stroke:pzStyles[i][0],'stroke-dasharray':pzStyles[i][1],'stroke-width':1.3});
  
  
});
e = mk(gz,'rect',{x:939,y:743,width:391,height:161,fill:'none',stroke:'#555','stroke-width':1});


pzTicks.forEach(t=>{
  mk(gz,'line',{x1:zx(t),x2:zx(t),y1:904,y2:907,stroke:'#000'});
  e = mk(gz,'text',{x:zx(t),y:921,'font-family':SANS,'font-size':11,'text-anchor':'middle'},t.toFixed(1));
  
  
});
e = mk(gz,'text',{x:1134,y:736,'font-family':SANS,'font-size':12,'text-anchor':'middle'},'Phot z PDF');


const pzLeg = [[958,"Sol z = 0.12"],[1031,"OII z (VIRUS) = 0.46"],[1193,"LyA z (VIRUS) = 3.46"]];
pzLeg.forEach((l,i)=>{
  mk(gz,'line',{x1:l[0],x2:l[0]+18,y1:938,y2:938,stroke:pzStyles[i][0],'stroke-dasharray':pzStyles[i][1],'stroke-width':1.3});
  e = mk(gz,'text',{x:l[0]+25,y:941,'font-family':SANS,'font-size':8.5},l[1]);
  
  
});
</script>
</body></html>
